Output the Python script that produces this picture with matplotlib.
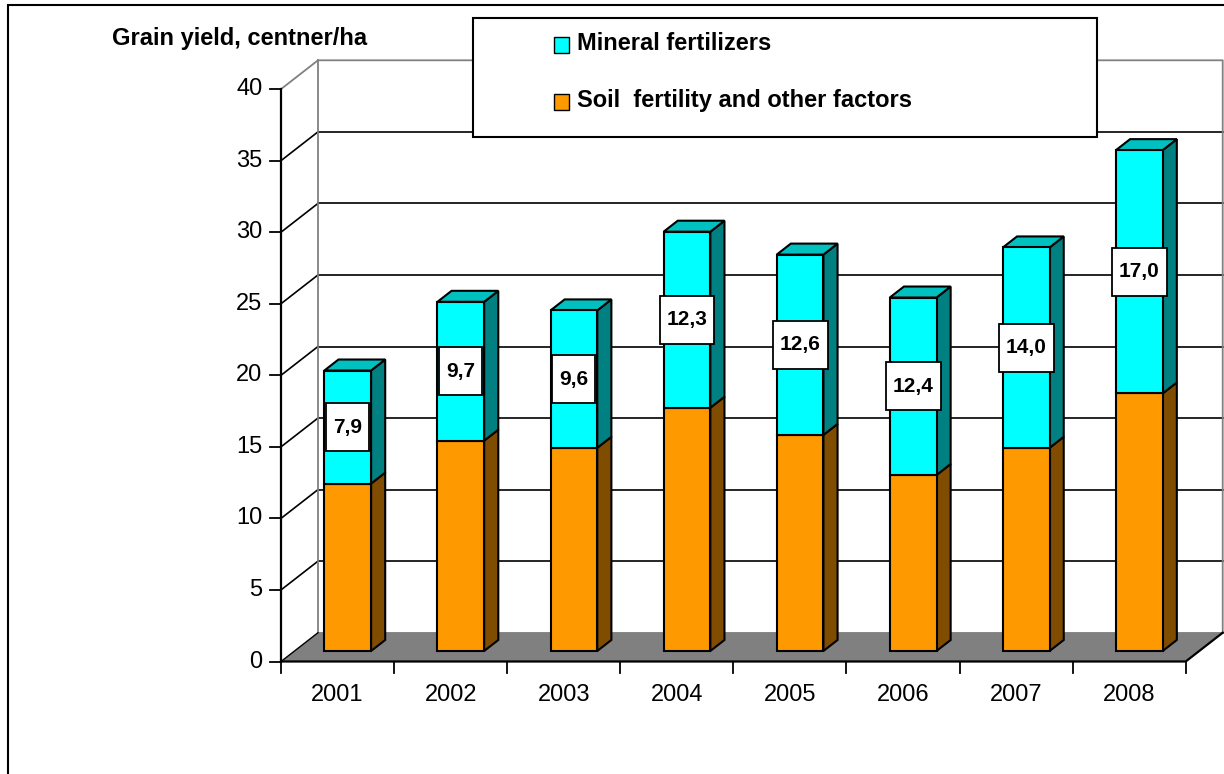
import matplotlib
matplotlib.use("Agg")
import matplotlib.pyplot as plt
from matplotlib.patches import Polygon, Rectangle

# data
years = ["2001", "2002", "2003", "2004", "2005", "2006", "2007", "2008"]
soil = [11.7, 14.7, 14.2, 17.0, 15.1, 12.3, 14.2, 18.0]
mineral = [7.9, 9.7, 9.6, 12.3, 12.6, 12.4, 14.0, 17.0]
y_ticks = [0, 5, 10, 15, 20, 25, 30, 35, 40]
legend_names = ["Mineral fertilizers", "Soil  fertility and other factors"]
y_title = "Grain yield, centner/ha"

# layout (pixels of the 1224x774 picture)
W, H = 1224, 774
X0, Y0 = 281, 661.5        # front corner of the axes
CAT = 113.09               # px per category
VAL = 14.31                # px per unit
DX = 37 / CAT              # depth shift, in category units
DY = 28.8 / VAL            # depth shift, in value units
D_FRONT, D_BACK = 0.365, 0.747
BAR_L, BAR_R = 0.264, 0.677

cyan, cyan_top, cyan_side = "#00FFFF", "#00C0C0", "#008080"
orange, orange_side = "#FF9900", "#7F4C00"

plt.rcParams['font.family'] = ['Liberation Sans', 'DejaVu Sans']


def P(x, v, d=0.0):
    return (x + d * DX, v + d * DY)


def fig_xy(x, y):
    return (x / W, 1 - y / H)


fig = plt.figure(figsize=(W / 100, H / 100), dpi=100)
ax = fig.add_axes([0, 0, 1, 1])
ax.set_xlim(-X0 / CAT, (W - X0) / CAT)
ax.set_ylim(-(H - Y0) / VAL, Y0 / VAL)
ax.axis("off")

n = len(years)
vmax = y_ticks[-1]

# outer border
fig.patches.append(Rectangle(fig_xy(8, 800), (W + 20) / W, 795 / H,
                             transform=fig.transFigure, fill=False,
                             edgecolor="black", lw=1.5, zorder=0))

# back wall and side wall grid
ax.add_patch(Polygon([P(0, 0, 1), P(n, 0, 1), P(n, vmax, 1), P(0, vmax, 1)],
                     closed=True, facecolor="white", edgecolor="none", zorder=1))
for v in y_ticks[1:-1]:
    ax.plot(*zip(P(0, v, 1), P(n, v, 1)), color="black", lw=1.2, zorder=2)
    ax.plot(*zip(P(0, v, 0), P(0, v, 1)), color="black", lw=1.2, zorder=2)
ax.plot(*zip(P(0, vmax, 0), P(0, vmax, 1), P(n, vmax, 1), P(n, 0, 1)),
        color="#808080", lw=1.3, zorder=2)
ax.plot(*zip(P(0, 0, 1), P(0, vmax, 1)), color="#808080", lw=1.3, zorder=2)

# floor
ax.add_patch(Polygon([P(0, 0, 0), P(n, 0, 0), P(n, 0, 1), P(0, 0, 1)],
                     closed=True, facecolor="#808080", edgecolor="none", zorder=2))
ax.plot(*zip(P(0, 0, 1), P(n, 0, 1)), color="#808080", lw=1.3, zorder=2)
ax.plot(*zip(P(0, 0, 0), P(0, 0, 1)), color="black", lw=1.0, zorder=3)
ax.plot(*zip(P(0, 0, 0), P(n, 0, 0), P(n, 0, 1)), color="black", lw=1.6, zorder=3)
ax.plot(*zip(P(0, 0, 0), P(0, vmax, 0)), color="black", lw=1.6, zorder=3)

# ticks and tick labels
for v in y_ticks:
    ax.plot([-11 / CAT, 0], [v, v], color="black", lw=1.3, zorder=3)
    ax.text(-18.5 / CAT, v, str(v), ha="right", va="center", fontsize=17, zorder=3)
for i in range(n + 1):
    ax.plot([i, i], [0, -11 / VAL], color="black", lw=1.3, zorder=3)
for i, yr in enumerate(years):
    ax.text(i + 0.5, -33.5 / VAL, yr, ha="center", va="center", fontsize=17, zorder=3)


# bars
def box3d(x0, x1, v0, v1, front, side, top=None):
    ax.add_patch(Polygon([P(x1, v0, D_FRONT), P(x1, v0, D_BACK),
                          P(x1, v1, D_BACK), P(x1, v1, D_FRONT)],
                         facecolor=side, edgecolor="black", lw=1.5, zorder=4))
    if top is not None:
        ax.add_patch(Polygon([P(x0, v1, D_FRONT), P(x1, v1, D_FRONT),
                              P(x1, v1, D_BACK), P(x0, v1, D_BACK)],
                             facecolor=top, edgecolor="black", lw=1.5, zorder=4))
    ax.add_patch(Polygon([P(x0, v0, D_FRONT), P(x1, v0, D_FRONT),
                          P(x1, v1, D_FRONT), P(x0, v1, D_FRONT)],
                         facecolor=front, edgecolor="black", lw=1.5, zorder=5))


labels = []
for i in range(n):
    x0, x1 = i + BAR_L, i + BAR_R
    box3d(x0, x1, 0, soil[i], orange, orange_side)
    box3d(x0, x1, soil[i], soil[i] + mineral[i], cyan, cyan_side, cyan_top)
    cx, cy = P((x0 + x1) / 2, soil[i] + mineral[i] / 2, D_FRONT)
    t = ax.text(cx, cy, f"{mineral[i]:.1f}".replace(".", ","), ha="center",
                va="center", fontsize=15, fontweight="bold", zorder=7)
    labels.append(t)

# label boxes sized around the text
renderer = fig.canvas.get_renderer()
for t in labels:
    bb = t.get_window_extent(renderer=renderer)
    inv = ax.transData.inverted()
    (bx0, by0), (bx1, by1) = inv.transform([[bb.x0, bb.y0], [bb.x1, bb.y1]])
    cy = (by0 + by1) / 2
    pad = 7 / CAT
    hh = 24 / VAL
    ax.add_patch(Rectangle((bx0 - pad, cy - hh), bx1 - bx0 + 2 * pad, 2 * hh,
                           facecolor="white", edgecolor="black", lw=1.3, zorder=6))

# axis title
fig.text(*fig_xy(112, 45), y_title, ha="left", va="baseline", fontsize=17,
         fontweight="bold")

# legend
fig.patches.append(Rectangle(fig_xy(473, 137), (1097 - 473) / W, (137 - 18) / H,
                             transform=fig.transFigure, facecolor="white",
                             edgecolor="black", lw=1.5, zorder=8))
for name, col, ytop, base in [(legend_names[0], cyan, 37.5, 50),
                              (legend_names[1], orange, 94.5, 107)]:
    fig.patches.append(Rectangle(fig_xy(554, ytop + 15), 15 / W, 15 / H,
                                 transform=fig.transFigure, facecolor=col,
                                 edgecolor="black", lw=1.0, zorder=9))
    fig.text(*fig_xy(577, base), name, ha="left", va="baseline", fontsize=17,
             fontweight="bold", zorder=9)

fig.savefig("out.png", dpi=100)
